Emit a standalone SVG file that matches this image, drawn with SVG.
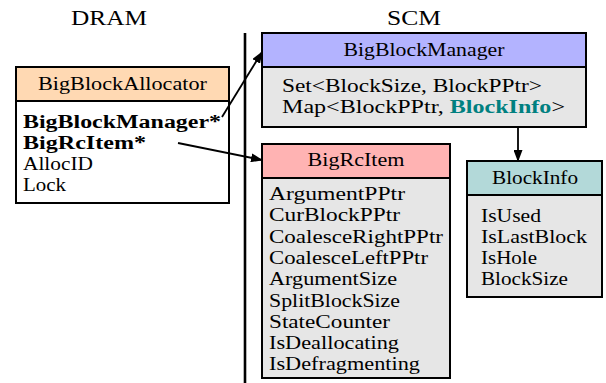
<svg xmlns="http://www.w3.org/2000/svg" width="606" height="383" viewBox="0 0 606 383">
<defs>
<style>
text{font-family:"Liberation Serif","Times New Roman",serif;font-size:18.5px;fill:#000}
.t{text-anchor:middle}
.lab{font-size:21.5px;text-anchor:middle}
.b{font-weight:bold}
.box{stroke:#000;stroke-width:2}
.body{fill:#E6E6E6}
.conn{stroke:#000;stroke-width:1.8;fill:none;marker-end:url(#ah)}
</style>
<marker id="ah" markerUnits="userSpaceOnUse" markerWidth="12" markerHeight="9" refX="11" refY="4.5" orient="auto">
<path d="M0,0 L12,4.5 L0,9 z" fill="#000"/>
</marker>
</defs>
<rect width="606" height="383" fill="#fff"/>
<text class="lab" x="109" y="25" textLength="76" lengthAdjust="spacingAndGlyphs">DRAM</text>
<text class="lab" x="414" y="25" textLength="54" lengthAdjust="spacingAndGlyphs">SCM</text>
<line x1="245" y1="33" x2="245" y2="383" stroke="#000" stroke-width="2.6"/>

<g id="BigBlockAllocator">
<rect class="box" x="16" y="67" width="213" height="34" fill="#FFD9B3"/>
<rect class="box" x="16" y="101" width="213" height="102" fill="#fff"/>
<text class="t" x="122.5" y="89.5" textLength="169" lengthAdjust="spacingAndGlyphs">BigBlockAllocator</text>
<text class="b" x="23" y="128" textLength="198" lengthAdjust="spacingAndGlyphs">BigBlockManager*</text>
<text class="b" x="23" y="149" textLength="123" lengthAdjust="spacingAndGlyphs">BigRcItem*</text>
<text x="23" y="170" textLength="70" lengthAdjust="spacingAndGlyphs">AllocID</text>
<text x="23" y="191" textLength="43" lengthAdjust="spacingAndGlyphs">Lock</text>
</g>

<g id="BigBlockManager">
<rect class="box" x="262" y="33" width="324" height="34" fill="#B3B3FF"/>
<rect class="box body" x="262" y="67" width="324" height="60"/>
<text class="t" x="424" y="56" textLength="161" lengthAdjust="spacingAndGlyphs">BigBlockManager</text>
<text x="282" y="92" textLength="260" lengthAdjust="spacingAndGlyphs">Set&lt;BlockSize, BlockPPtr&gt;</text>
<text x="282" y="113" textLength="283" lengthAdjust="spacingAndGlyphs">Map&lt;BlockPPtr, <tspan class="b" fill="#008080">BlockInfo</tspan>&gt;</text>
</g>

<g id="BigRcItem">
<rect class="box" x="262" y="144" width="188" height="34" fill="#FFB3B3"/>
<rect class="box body" x="262" y="178" width="188" height="200"/>
<text class="t" x="356" y="166" textLength="97" lengthAdjust="spacingAndGlyphs">BigRcItem</text>
<text x="269" y="200" textLength="136" lengthAdjust="spacingAndGlyphs">ArgumentPPtr</text>
<text x="269" y="221.3" textLength="131" lengthAdjust="spacingAndGlyphs">CurBlockPPtr</text>
<text x="269" y="242.6" textLength="174" lengthAdjust="spacingAndGlyphs">CoalesceRightPPtr</text>
<text x="269" y="263.9" textLength="159" lengthAdjust="spacingAndGlyphs">CoalesceLeftPPtr</text>
<text x="269" y="285.2" textLength="128" lengthAdjust="spacingAndGlyphs">ArgumentSize</text>
<text x="269" y="306.5" textLength="131" lengthAdjust="spacingAndGlyphs">SplitBlockSize</text>
<text x="269" y="327.8" textLength="121" lengthAdjust="spacingAndGlyphs">StateCounter</text>
<text x="269" y="349.1" textLength="130" lengthAdjust="spacingAndGlyphs">IsDeallocating</text>
<text x="269" y="370.4" textLength="151" lengthAdjust="spacingAndGlyphs">IsDefragmenting</text>
</g>

<g id="BlockInfo">
<rect class="box" x="467" y="161" width="135" height="34" fill="#B3D9D9"/>
<rect class="box body" x="467" y="195" width="135" height="102"/>
<text class="t" x="535" y="184" textLength="86" lengthAdjust="spacingAndGlyphs">BlockInfo</text>
<text x="481" y="222" textLength="60" lengthAdjust="spacingAndGlyphs">IsUsed</text>
<text x="481" y="243" textLength="106" lengthAdjust="spacingAndGlyphs">IsLastBlock</text>
<text x="481" y="264" textLength="56" lengthAdjust="spacingAndGlyphs">IsHole</text>
<text x="481" y="285" textLength="87" lengthAdjust="spacingAndGlyphs">BlockSize</text>
</g>

<g id="connectors">
<line class="conn" x1="222" y1="117" x2="262" y2="52"/>
<line class="conn" x1="178" y1="143" x2="262" y2="160"/>
<line class="conn" x1="518" y1="128" x2="518" y2="161"/>
</g>
</svg>
